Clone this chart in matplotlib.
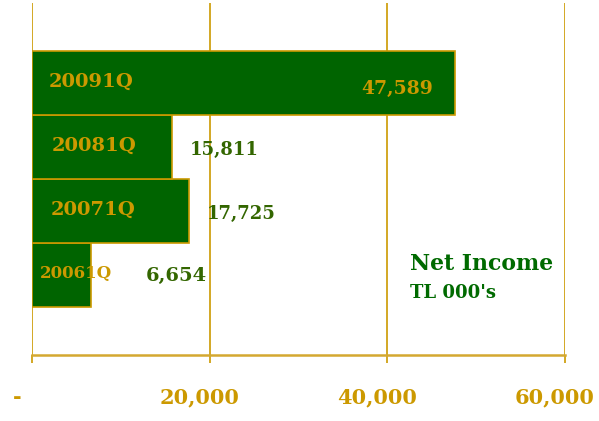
import matplotlib
matplotlib.use('Agg')
import matplotlib.pyplot as plt
import matplotlib.transforms as mtransforms

# quarterly net income, TL 000's (bottom to top)
quarters = ['20061Q', '20071Q', '20081Q', '20091Q']
net_income = [6654, 17725, 15811, 47589]
value_labels = ['6,654', '17,725', '15,811', '47,589']
tick_values = [0, 20000, 40000, 60000]
tick_labels = ['-', '20,000', '40,000', '60,000']

GREEN = '#006400'
GOLD = '#CC9900'
DARK_TEXT = '#336600'
TITLE_GREEN = '#006A00'

plt.rcParams['font.family'] = ['DejaVu Serif']
plt.rcParams['font.weight'] = 'bold'

fig = plt.figure(figsize=(5.99, 4.21), dpi=100)
ax = fig.add_axes([32 / 599, 66 / 421, 533 / 599, 352 / 421])

ypos = list(range(len(quarters)))
ax.barh(ypos, net_income, height=1.0, color=GREEN, edgecolor=GOLD,
        linewidth=1.2, zorder=3)

ax.set_xlim(0, 60000)
ax.set_ylim(-1.25, 3.25 + 1.0)

# gold vertical gridlines
for xv in tick_values:
    ax.axvline(xv, color=GOLD, lw=1.2, zorder=1)
ax.axhline(-1.25, color='#D4A830', lw=1.8, zorder=2, clip_on=False)

for s in ax.spines.values():
    s.set_visible(False)
ax.set_yticks([])
ax.set_xticks(tick_values)
ax.set_xticklabels([])
ax.tick_params(axis='x', length=6, width=1.2, color=GOLD, direction='out')

# x tick labels, nudged a bit left like the original
tick_shift = [-15, -10, -10, -10]
for xv, lab, dx in zip(tick_values, tick_labels, tick_shift):
    shift = mtransforms.ScaledTranslation(dx / 100, 0, fig.dpi_scale_trans)
    ax.text(xv, -0.12, lab, transform=ax.get_xaxis_transform() + shift,
            ha='center', va='center', color=GOLD, fontsize=15,
            fontweight='bold', clip_on=False)

# category labels inside bars
cat_x = [900, 2140, 2250, 1910]
cat_size = [12, 14, 14, 14]
for i, q in enumerate(quarters):
    ax.text(cat_x[i], ypos[i] + 0.02, q, ha='left', va='center',
            color=GOLD, fontsize=cat_size[i], fontweight='bold', zorder=4)

# value labels
val_offset = [6100, 1950, 1900, -2450]
val_size = [14, 13, 13, 13.5]
val_dy = [-0.02, -0.05, -0.05, -0.1]
for i, v in enumerate(net_income):
    inside = v > 40000
    ax.text(v + val_offset[i], ypos[i] + val_dy[i], value_labels[i],
            ha='right' if inside else 'left', va='center',
            color=GOLD if inside else DARK_TEXT, fontsize=val_size[i],
            fontweight='bold', zorder=4)

ax.text(42500, 0.17, 'Net Income', ha='left', va='center',
        color=TITLE_GREEN, fontsize=15.8, fontweight='bold')
ax.text(42500, -0.28, "TL 000's", ha='left', va='center',
        color=TITLE_GREEN, fontsize=13, fontweight='bold')

fig.savefig('out.png', dpi=100)
